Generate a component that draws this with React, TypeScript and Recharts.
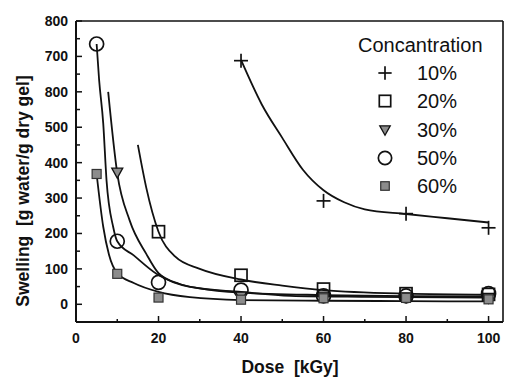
import { ComposedChart, Line, Scatter, XAxis, YAxis, Legend, Label } from "recharts";

// measured points (Dose kGy, Swelling g water/g dry gel)
const pts10 = [
  { dose: 40, swelling: 688 },
  { dose: 60, swelling: 292 },
  { dose: 80, swelling: 256 },
  { dose: 100, swelling: 216 },
];
const pts20 = [
  { dose: 20, swelling: 205 },
  { dose: 40, swelling: 82 },
  { dose: 60, swelling: 43 },
  { dose: 80, swelling: 30 },
  { dose: 100, swelling: 28 },
];
const pts30 = [
  { dose: 10, swelling: 372 },
  { dose: 40, swelling: 22 },
  { dose: 60, swelling: 22 },
  { dose: 80, swelling: 20 },
  { dose: 100, swelling: 18 },
];
const pts50 = [
  { dose: 5, swelling: 735 },
  { dose: 10, swelling: 178 },
  { dose: 20, swelling: 62 },
  { dose: 40, swelling: 40 },
  { dose: 60, swelling: 24 },
  { dose: 80, swelling: 24 },
  { dose: 100, swelling: 30 },
];
const pts60 = [
  { dose: 5, swelling: 368 },
  { dose: 10, swelling: 86 },
  { dose: 20, swelling: 19 },
  { dose: 40, swelling: 13 },
  { dose: 60, swelling: 17 },
  { dose: 80, swelling: 18 },
  { dose: 100, swelling: 14 },
];

// fitted curves
const fit10 = [
  { dose: 40, swelling: 690 },
  { dose: 45, swelling: 565 },
  { dose: 50, swelling: 470 },
  { dose: 55, swelling: 380 },
  { dose: 60, swelling: 322 },
  { dose: 65, swelling: 288 },
  { dose: 70, swelling: 268 },
  { dose: 80, swelling: 255 },
  { dose: 90, swelling: 243 },
  { dose: 100, swelling: 231 },
];
const fit20 = [
  { dose: 15, swelling: 450 },
  { dose: 17, swelling: 331 },
  { dose: 20, swelling: 205 },
  { dose: 24, swelling: 135 },
  { dose: 30, swelling: 100 },
  { dose: 40, swelling: 70 },
  { dose: 50, swelling: 53 },
  { dose: 60, swelling: 40 },
  { dose: 80, swelling: 30 },
  { dose: 100, swelling: 27 },
];
const fit30 = [
  { dose: 7.8, swelling: 600 },
  { dose: 10, swelling: 370 },
  { dose: 13, swelling: 237 },
  { dose: 17, swelling: 143 },
  { dose: 20, swelling: 88 },
  { dose: 25, swelling: 58 },
  { dose: 30, swelling: 45 },
  { dose: 40, swelling: 33 },
  { dose: 60, swelling: 26 },
  { dose: 80, swelling: 23 },
  { dose: 100, swelling: 22 },
];
const fit50 = [
  { dose: 5, swelling: 735 },
  { dose: 5.6, swelling: 634 },
  { dose: 6.6, swelling: 511 },
  { dose: 7.4, swelling: 350 },
  { dose: 9, swelling: 219 },
  { dose: 10, swelling: 178 },
  { dose: 14, swelling: 138 },
  { dose: 19.5, swelling: 86 },
  { dose: 27.6, swelling: 49 },
  { dose: 40, swelling: 35 },
  { dose: 52, swelling: 24 },
  { dose: 70, swelling: 21 },
  { dose: 100, swelling: 19 },
];
const fit60 = [
  { dose: 5, swelling: 368 },
  { dose: 6.6, swelling: 219 },
  { dose: 8, swelling: 140 },
  { dose: 10, swelling: 88 },
  { dose: 14, swelling: 60 },
  { dose: 20, swelling: 35 },
  { dose: 27.6, swelling: 20 },
  { dose: 40, swelling: 12 },
  { dose: 60, swelling: 10 },
  { dose: 80, swelling: 9 },
  { dose: 100, swelling: 8 },
];

const seriesNames = ["10%", "20%", "30%", "50%", "60%"];
const markerKinds = ["plus", "square", "triangle", "circle", "graySquare"];

const doseTicks = [0, 10, 20, 30, 40, 50, 60, 70, 80, 90, 100];
const doseLabels = [0, 20, 40, 60, 80, 100];
const swellTicks = [-50, 0, 50, 100, 150, 200, 250, 300, 350, 400, 450, 500, 550, 600, 650, 700, 750, 800];
// the original figure prints "800" at the 600 tick
const swellLabels: Record<number, string> = {
  0: "0", 100: "100", 200: "200", 300: "300", 400: "400",
  500: "500", 600: "800", 700: "700", 800: "800",
};

const FONT = "'Liberation Sans', Arial, sans-serif";
const INK = "#111";
const GRAY = "#8c8c8c";

function marker(kind: string, cx: number, cy: number, scale = 1) {
  if (kind === "plus") {
    const h = 7 * scale;
    return (
      <g stroke={INK} strokeWidth={1.7}>
        <line x1={cx - h} x2={cx + h} y1={cy} y2={cy} />
        <line x1={cx} x2={cx} y1={cy - h} y2={cy + h} />
      </g>
    );
  }
  if (kind === "square") {
    const h = 6 * scale;
    return <rect x={cx - h} y={cy - h} width={2 * h} height={2 * h} fill="none" stroke={INK} strokeWidth={1.7} />;
  }
  if (kind === "triangle") {
    const h = 5.5 * scale;
    return (
      <path
        d={`M${cx - h},${cy - h * 0.8} L${cx + h},${cy - h * 0.8} L${cx},${cy + h} Z`}
        fill={GRAY}
        stroke={INK}
        strokeWidth={1.3}
      />
    );
  }
  if (kind === "circle") {
    return <circle cx={cx} cy={cy} r={7 * scale} fill="none" stroke={INK} strokeWidth={1.7} />;
  }
  const h = 4.5 * scale;
  return <rect x={cx - h} y={cy - h} width={2 * h} height={2 * h} fill={GRAY} stroke="#333" strokeWidth={1.2} />;
}

const shapeFor = (kind: string) => (props: any) => marker(kind, props.cx, props.cy);

function BottomTick({ x, y, payload }: any) {
  const v = payload.value;
  const major = doseLabels.includes(v);
  return (
    <g>
      <line x1={x} x2={x} y1={y} y2={y - (major ? 6 : 3)} stroke={INK} strokeWidth={1.5} />
      {major && (
        <text x={x} y={y + 21} textAnchor="middle" fontFamily={FONT} fontWeight="bold" fontSize={14} fill={INK}>
          {v}
        </text>
      )}
    </g>
  );
}

function TopTick({ x, y, payload }: any) {
  const major = doseLabels.includes(payload.value);
  return <line x1={x} x2={x} y1={y} y2={y + (major ? 6 : 3)} stroke={INK} strokeWidth={1.5} />;
}

function LeftTick({ x, y, payload }: any) {
  const v = payload.value;
  const label = swellLabels[v];
  return (
    <g>
      <line x1={x} x2={x + (label ? 6 : 4)} y1={y} y2={y} stroke={INK} strokeWidth={1.5} />
      {label && (
        <text x={x - 8} y={y + 5} textAnchor="end" fontFamily={FONT} fontWeight="bold" fontSize={14} fill={INK}>
          {label}
        </text>
      )}
    </g>
  );
}

function RightTick({ x, y, payload }: any) {
  const major = swellLabels[payload.value] !== undefined;
  return <line x1={x} x2={x - (major ? 6 : 4)} y1={y} y2={y} stroke={INK} strokeWidth={1.5} />;
}

function LegendBox() {
  const rowY = [55, 83, 112, 140, 168];
  return (
    <svg width={160} height={180}>
      <text x={8} y={27} fontFamily={FONT} fontSize={20} fill={INK}>
        Concantration
      </text>
      {seriesNames.map((name, i) => (
        <g key={name}>
          {marker(markerKinds[i], 35, rowY[i] - 7, 0.95)}
          <text x={67} y={rowY[i]} fontFamily={FONT} fontSize={20} fill={INK}>
            {name}
          </text>
        </g>
      ))}
    </svg>
  );
}

const fits = [fit10, fit20, fit30, fit50, fit60];
const points = [pts10, pts20, pts30, pts50, pts60];

export default function App() {
  return (
    <div style={{ position: "absolute", left: 0, top: 0, background: "#fff" }}>
      <ComposedChart width={507} height={379} margin={{ top: 0, right: 0, bottom: 0, left: 0 }}>
        <XAxis
          dataKey="dose"
          type="number"
          domain={[0, 103.5]}
          ticks={doseTicks}
          interval={0}
          height={57}
          tickSize={0}
          tickMargin={0}
          tickLine={false}
          tick={BottomTick}
          axisLine={{ stroke: INK, strokeWidth: 2 }}
        >
          <Label
            content={() => (
              <text x={290} y={373} textAnchor="middle" fontFamily={FONT} fontWeight="bold" fontSize={17.5} fill={INK} xmlSpace="preserve">
                Dose  [kGy]
              </text>
            )}
          />
        </XAxis>
        <XAxis
          xAxisId="top"
          orientation="top"
          dataKey="dose"
          type="number"
          domain={[0, 103.5]}
          ticks={doseTicks}
          interval={0}
          height={21}
          tickSize={0}
          tickMargin={0}
          tickLine={false}
          tick={TopTick}
          axisLine={{ stroke: INK, strokeWidth: 1.6 }}
        />
        <YAxis
          dataKey="swelling"
          type="number"
          domain={[-50, 800]}
          ticks={swellTicks}
          interval={0}
          width={76}
          tickSize={0}
          tickMargin={0}
          tickLine={false}
          tick={LeftTick}
          axisLine={{ stroke: INK, strokeWidth: 2 }}
        >
          <Label
            content={() => (
              <g transform="translate(29,191) rotate(-90)">
                <text
                  x={0}
                  y={0}
                  textAnchor="middle"
                  fontFamily={FONT}
                  fontWeight="bold"
                  fontSize={17.5}
                  fill={INK}
                  xmlSpace="preserve"
                >
                  Swelling  [g water/g dry gel]
                </text>
              </g>
            )}
          />
        </YAxis>
        <YAxis
          yAxisId="right"
          orientation="right"
          dataKey="swelling"
          type="number"
          domain={[-50, 800]}
          ticks={swellTicks}
          interval={0}
          width={4}
          tickSize={0}
          tickMargin={0}
          tickLine={false}
          tick={RightTick}
          axisLine={{ stroke: INK, strokeWidth: 1.6 }}
        />
        {fits.map((fit, i) => (
          <Line
            key={`fit-${seriesNames[i]}`}
            data={fit}
            dataKey="swelling"
            type="monotone"
            stroke={INK}
            strokeWidth={1.8}
            dot={false}
            activeDot={false}
            legendType="none"
            isAnimationActive={false}
          />
        ))}
        {points.map((pts, i) => (
          <Scatter
            key={`pts-${seriesNames[i]}`}
            name={seriesNames[i]}
            data={pts}
            dataKey="swelling"
            shape={shapeFor(markerKinds[i])}
            isAnimationActive={false}
          />
        ))}
        <Legend
          layout="vertical"
          align="center"
          verticalAlign="middle"
          content={() => <LegendBox />}
          wrapperStyle={{ left: 350, top: 25, width: 160, height: 180 }}
        />
      </ComposedChart>
    </div>
  );
}
